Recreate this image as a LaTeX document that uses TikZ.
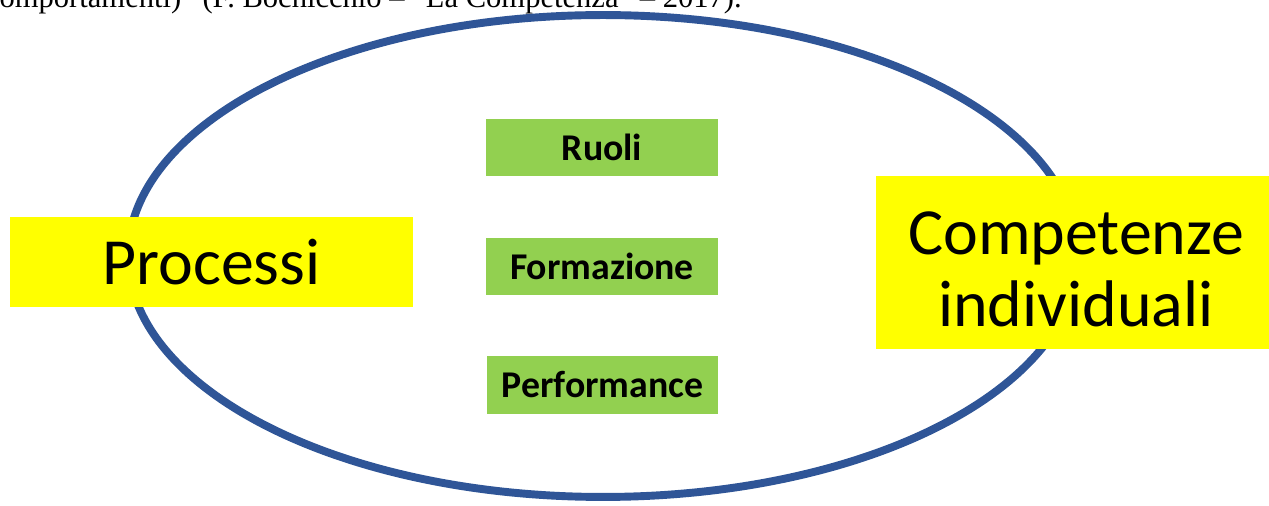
\documentclass[tikz,border=0pt]{standalone}
\usepackage{fontspec}
\setmainfont{Carlito}
\newfontfamily\citefont{Liberation Serif}
\definecolor{ovalblue}{HTML}{2F5597}
\definecolor{boxgreen}{HTML}{92D050}
\definecolor{boxyellow}{HTML}{FFFF00}
\tikzset{
  bigbox/.style={fill=boxyellow, inner sep=0pt, align=center},
  bigtext/.style={inner sep=0pt, align=center, font=\fontsize{37.5}{41}\selectfont},
  smallbox/.style={fill=boxgreen, inner sep=0pt, minimum width=4.64cm, minimum height=1.14cm, font=\bfseries\fontsize{21.5}{24}\selectfont},
}
\begin{document}
\begin{tikzpicture}[x=0.02cm,y=-0.02cm]
\useasboundingbox (0,0) rectangle (1269,506);
\clip (0,0) rectangle (1269,506);
\fill[white] (0,0) rectangle (1269,506);
\node[anchor=base east, inner sep=0pt, font=\citefont\fontsize{17.4}{19}\selectfont] (cite) at (742,8) {comportamenti)” (F. Bochicchio – “La Competenza” – 2017).};
\draw[ovalblue, line width=4.5pt] (603,256) ellipse [x radius=9.5cm, y radius=4.82cm];
\node[bigbox, bigtext, minimum width=8.06cm, minimum height=1.8cm] (proc) at (211.5,262) {Processi};
\node[bigbox, minimum width=7.86cm, minimum height=3.46cm] (comp) at (1072.5,262.5) {};
\node[bigtext, anchor=base] (comptext) at (1076,327) {Competenze\\individuali};
\node[smallbox] (ruoli) at (602,147.5) {Ruoli};
\node[smallbox] (form) at (602,266.5) {Formazione};
\node[smallbox, minimum height=1.16cm] (perf) at (602.5,385) {Performance};
\end{tikzpicture}
\end{document}
